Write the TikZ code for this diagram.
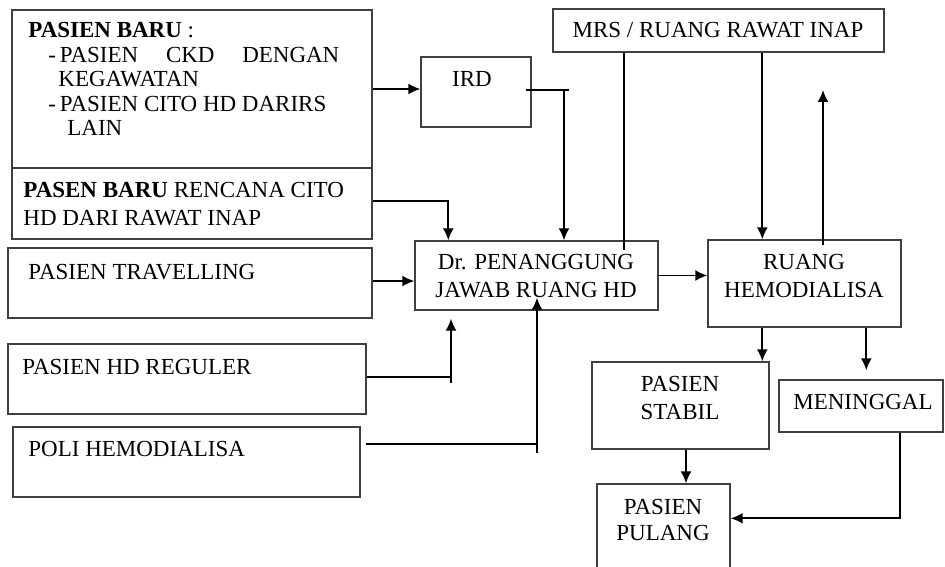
\documentclass[tikz,border=0pt]{standalone}
\usepackage{fontspec}
\setmainfont{Liberation Serif}
\usetikzlibrary{arrows.meta}
\tikzstyle{box}=[draw=black!75,line width=0.7pt,inner sep=0pt]
\tikzstyle{txt}=[inner sep=0pt,font=\fontsize{11.5}{14}\selectfont,align=center]
\tikzstyle{conn}=[line width=0.85pt]
\tikzstyle{myarrow}=[line width=0.85pt,-{Latex[length=6pt,width=5.5pt]}]

\begin{document}
\begin{tikzpicture}[x=0.5pt,y=-0.5pt]
		\clip (0,0) rectangle (945,566);
		% boxes on the left
		\node[box,minimum width=180pt,minimum height=79pt] (baru) at (192,89) {};
		\node[box,minimum width=180pt,minimum height=35.5pt] (rencana) at (192,203.5) {};
		\node[box,minimum width=182pt,minimum height=35pt] (trav) at (190,283) {};
		\node[box,minimum width=179pt,minimum height=35pt] (reg) at (187,379) {};
		\node[box,minimum width=173.5pt,minimum height=35pt] (poli) at (186.5,462) {};
		% boxes in the middle and on the right
		\node[box,minimum width=55pt,minimum height=35pt] (ird) at (476,92) {};
		\node[box,minimum width=165.5pt,minimum height=21.5pt] (mrs) at (718.5,30.5) {};
		\node[box,minimum width=121.5pt,minimum height=34.5pt] (dr) at (536.5,275.5) {};
		\node[box,minimum width=96.5pt,minimum height=43.5pt] (ruang) at (804.5,283.5) {};
		\node[box,minimum width=88.5pt,minimum height=43.5pt] (stabil) at (680.5,405.5) {};
		\node[box,minimum width=82pt,minimum height=26pt] (meninggal) at (861,406) {};
		\node[box,minimum width=66.5pt,minimum height=53pt] (pulang) at (663.5,537) {};

		% texts
		\node[txt,align=left,anchor=north west,font=\fontsize{11.5}{12.25}\selectfont] (t-baru) at (28,22) {%
			\textbf{PASIEN BARU} :\\
			\hspace*{10pt}\hbox to 145.5pt{-\,PASIEN\hfill CKD\hfill DENGAN}\\
			\hspace*{15pt}KEGAWATAN\\
			\hspace*{10pt}-\,PASIEN CITO HD DARIRS\\
			\hspace*{19.5pt}LAIN};
		\node[txt,align=left,anchor=north west] (t-rencana) at (23,181.5) {\textbf{PASEN BARU} RENCANA CITO\\HD DARI RAWAT INAP};
		\node[txt,anchor=west] (t-trav) at (28,272) {PASIEN TRAVELLING};
		\node[txt,anchor=west] (t-reg) at (22,367) {PASIEN HD REGULER};
		\node[txt,anchor=west] (t-poli) at (28,449) {POLI HEMODIALISA};
		\node[txt] (t-ird) at (472,79) {IRD};
		\node[txt] (t-mrs) at (718,30) {MRS / RUANG RAWAT INAP};
		\node[txt] (t-dr) at (536,276) {Dr. PENANGGUNG\\JAWAB RUANG HD};
		\node[txt] (t-ruang) at (804,276) {RUANG\\HEMODIALISA};
		\node[txt] (t-stabil) at (680,398) {PASIEN\\STABIL};
		\node[txt] (t-meninggal) at (863,402) {MENINGGAL};
		\node[txt,font=\fontsize{11.5}{13}\selectfont] (t-pulang) at (663,520) {PASIEN\\PULANG};

		% connectors
		\draw[myarrow] (baru.east) -- (baru.east -| ird.west);
		\coordinate (irdout) at (564,90);
		\draw[conn] ([xshift=-3pt]ird.east |- irdout) -- ([xshift=2.5pt]irdout);
		\draw[myarrow] (irdout) -- (irdout |- dr.north);
		\draw[myarrow] ([yshift=1.25pt]rencana.east) -| ([xshift=17pt]dr.north west);
		\draw[myarrow] ([yshift=1pt]trav.east) -- ([yshift=1pt]trav.east -| dr.west);

		\coordinate (regturn) at (451,377);
		\draw[conn,line width=0.7pt] (reg.east |- regturn) -- (regturn);
		\draw[myarrow,line width=0.7pt] ([yshift=-3pt]regturn) -- ([yshift=-4pt]regturn |- dr.south);
		\coordinate (politurn) at (537,444);
		\draw[conn] ([xshift=2.5pt]poli.east |- politurn) -- (politurn);
		\draw[myarrow] ([yshift=-4.5pt]politurn) -- ([yshift=6.5pt]politurn |- dr.south);

		\draw[conn] ([xshift=36pt]mrs.south west) coordinate (mrsl) -- ([yshift=-5pt]mrsl |- dr.north);
		\draw[myarrow] ([xshift=105pt]mrs.south west) coordinate (mrsr) -- (mrsr |- ruang.north);
		\coordinate (upend) at (823,90);
		\draw[myarrow] ([yshift=-3pt]upend |- ruang.north) -- (upend);

		\draw[myarrow] (dr.east) -- (dr.east -| ruang.west);
		\draw[myarrow] (mrsr |- ruang.south) -- (mrsr |- stabil.north);
		\draw[myarrow] ([xshift=79.5pt]ruang.south west) coordinate (rm) -- ([yshift=4.5pt]rm |- meninggal.north);
		\draw[myarrow] ([xshift=2.75pt]stabil.south) coordinate (sp) -- (sp |- pulang.north);
		\draw[myarrow] ([xshift=61pt]meninggal.south west) |- ([yshift=-17.5pt]pulang.north east);
	\end{tikzpicture}
\end{document}
